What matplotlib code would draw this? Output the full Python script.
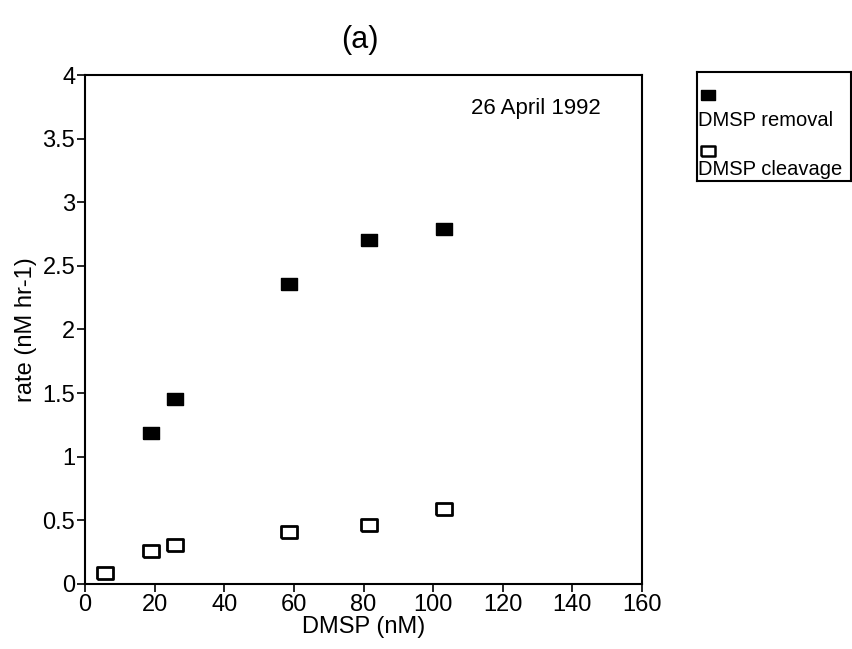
import matplotlib
matplotlib.use('Agg')
import matplotlib.pyplot as plt

plt.rcParams['font.family'] = ['Liberation Sans', 'DejaVu Sans']

dmsp = [5.7, 19.0, 25.9, 58.6, 81.6, 103.2]
removal_x = [19.0, 25.9, 58.6, 81.6, 103.2]
removal = [1.19, 1.45, 2.36, 2.70, 2.79]
cleavage = [0.09, 0.26, 0.31, 0.41, 0.46, 0.59]

xticks = [0, 20, 40, 60, 80, 100, 120, 140, 160]
yticks = [0, 0.5, 1, 1.5, 2, 2.5, 3, 3.5, 4]
ytick_labels = ['0', '0.5', '1', '1.5', '2', '2.5', '3', '3.5', '4']

# slightly wide rectangle marker like the scan
rect = [(-1, -0.75), (1, -0.75), (1, 0.75), (-1, 0.75), (-1, -0.75)]

fig = plt.figure(figsize=(8.52, 6.49), dpi=100)
ax = fig.add_axes([0.0998, 0.1002, 0.6537, 0.7842])

ax.plot(removal_x, removal, linestyle='none', marker=rect, markersize=11,
        markerfacecolor='black', markeredgecolor='black')
ax.plot(dmsp, cleavage, linestyle='none', marker=rect, markersize=11,
        markerfacecolor='white', markeredgecolor='black', markeredgewidth=2)

ax.set_xlim(0, 160)
ax.set_ylim(0, 4)
ax.set_xticks(xticks)
ax.set_yticks(yticks)
ax.set_yticklabels(ytick_labels)
ax.tick_params(direction='out', length=6, width=1.2, labelsize=17, pad=1,
               top=False, right=False)
for s in ax.spines.values():
    s.set_linewidth(1.5)

ax.set_xlabel('DMSP (nM)', fontsize=17, labelpad=0)
ax.set_ylabel('rate (nM hr-1)', fontsize=17, labelpad=4)
ax.text(0.81, 0.955, '26 April 1992', transform=ax.transAxes, fontsize=16,
        ha='center', va='top')
fig.text(0.422, 0.938, '(a)', fontsize=22, ha='center', va='center')

# legend box, markers stacked above labels
lg = fig.add_axes([0.818, 0.721, 0.181, 0.168])
lg.set_xlim(0, 1)
lg.set_ylim(0, 1)
lg.set_xticks([])
lg.set_yticks([])
for s in lg.spines.values():
    s.set_linewidth(1.5)
lg.plot([0.07], [0.79], linestyle='none', marker=rect, markersize=10,
        markerfacecolor='black', markeredgecolor='black')
lg.text(0.01, 0.56, 'DMSP removal', fontsize=14.5, va='center', ha='left')
lg.plot([0.07], [0.28], linestyle='none', marker=rect, markersize=10,
        markerfacecolor='white', markeredgecolor='black', markeredgewidth=1.8)
lg.text(0.01, 0.11, 'DMSP cleavage', fontsize=14.5, va='center', ha='left')

fig.savefig('out.png', dpi=100)
